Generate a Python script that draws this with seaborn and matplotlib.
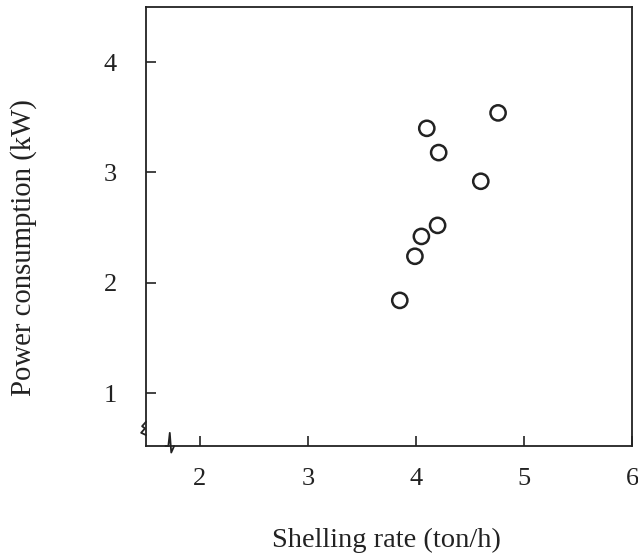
import matplotlib
matplotlib.use("Agg")
import matplotlib.pyplot as plt
import seaborn as sns
import pandas as pd
from matplotlib.lines import Line2D

shelling_rate = [3.85, 3.99, 4.05, 4.20, 4.10, 4.21, 4.60, 4.76]
power_kw = [1.84, 2.24, 2.42, 2.52, 3.40, 3.18, 2.92, 3.54]
x_ticks = [2, 3, 4, 5, 6]
y_ticks = [1, 2, 3, 4]

sns.set_theme(style="ticks")
plt.rcParams['font.family'] = ['Liberation Serif', 'DejaVu Serif']

df = pd.DataFrame({"x": shelling_rate, "y": power_kw})

fig = plt.figure(figsize=(6.38, 5.60), dpi=100)
ax = fig.add_axes([0.2288, 0.2036, 0.7618, 0.7839])
sns.scatterplot(data=df, x="x", y="y", ax=ax, s=120, marker="o",
                facecolors="none", edgecolor="#222222", linewidth=1.8)

ax.set_xlim(1.5, 6.0)
ax.set_ylim(0.52, 4.5)
ax.set_xticks(x_ticks)
ax.set_yticks(y_ticks)
ax.set_xticklabels([str(t) for t in x_ticks])
ax.set_yticklabels([str(t) for t in y_ticks])
ax.tick_params(direction="in", length=7, width=1.2, labelsize=19,
               colors="#222222", pad=16)
ax.tick_params(axis="y", pad=21)
for sp in ax.spines.values():
    sp.set_color("#222222")
    sp.set_linewidth(1.3)

ax.set_xlabel("Shelling rate (ton/h)", fontsize=20.5, color="#222222", labelpad=27)
ax.set_ylabel("Power consumption (kW)", fontsize=20.7, color="#222222", labelpad=48)
ax.xaxis.label.set_x(0.494)
ax.yaxis.label.set_y(0.453)

# axis break marks
tr = ax.transAxes
ax.add_line(Line2D([0.0, -0.008, -0.002, -0.010, 0.0], [0.055, 0.045, 0.040, 0.030, 0.025],
                   transform=tr, color="#222222", lw=1.3, clip_on=False))
ax.add_line(Line2D([0.040, 0.046, 0.049, 0.052, 0.058], [0.0, 0.0, 0.03, -0.015, 0.0],
                   transform=tr, color="#222222", lw=1.3, clip_on=False))

fig.savefig("out.png", dpi=100)
